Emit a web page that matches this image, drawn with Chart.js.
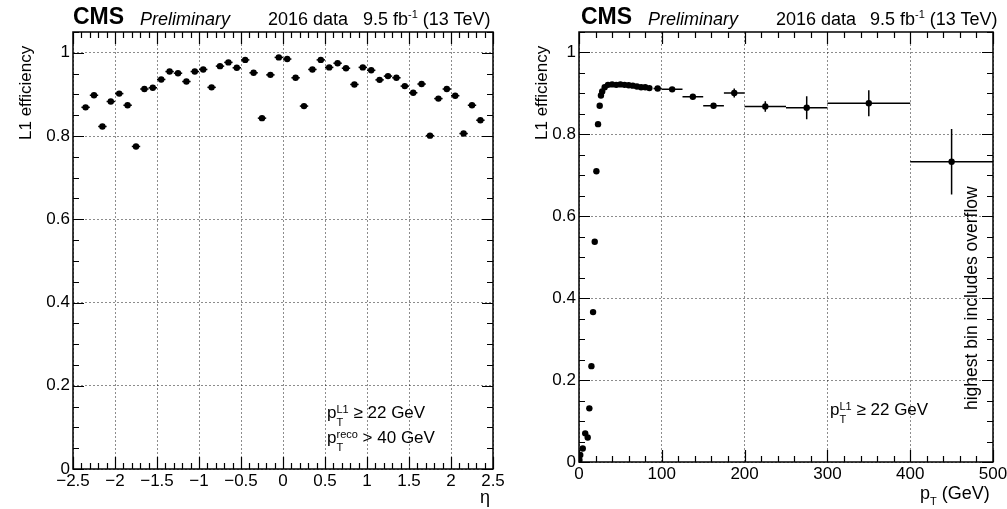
<!DOCTYPE html>
<html>
<head>
<meta charset="utf-8">
<script src="https://cdn.jsdelivr.net/npm/chart.js@4"></script>
<style>
  html, body { margin: 0; padding: 0; background: #fff; }
  body { width: 1007px; height: 509px; position: relative; overflow: hidden;
         font-family: "Liberation Sans", Arial, sans-serif; color: #000; }
  canvas { position: absolute; top: 0; }
  .t { position: absolute; white-space: nowrap; font-size: 18px; line-height: 18px; }
  .cms { font-weight: bold; font-size: 23px; line-height: 23px; }
  .it { font-style: italic; }
  .ytitle { position: absolute; white-space: nowrap; font-size: 17px; line-height: 17px;
            transform-origin: 0 0; transform: rotate(-90deg); }
  .ss { display: inline-block; vertical-align: -8px; font-size: 11px; line-height: 12.5px; }
  .ss span { display: block; }
  sup.e { font-size: 11px; vertical-align: 7px; line-height: 0; }
  .sub { font-size: 11px; vertical-align: -6px; line-height: 0; }
</style>
</head>
<body>
<canvas id="etaChart" width="520" height="509" style="left:0"></canvas>
<canvas id="ptChart" width="530" height="509" style="left:500px"></canvas>

<!-- headers -->
<div class="t cms" style="left:73px;top:5px">CMS</div>
<div class="t it" style="left:140px;top:10px">Preliminary</div>
<div class="t" style="left:268px;top:10px">2016 data</div>
<div class="t" style="left:363px;top:10px">9.5 fb<sup class="e">-1</sup> (13 TeV)</div>

<div class="t cms" style="left:581px;top:5px">CMS</div>
<div class="t it" style="left:648px;top:10px">Preliminary</div>
<div class="t" style="left:776px;top:10px">2016 data</div>
<div class="t" style="left:870px;top:10px">9.5 fb<sup class="e">-1</sup> (13 TeV)</div>

<!-- axis titles -->
<div class="ytitle" style="left:17px;top:140px">L1 efficiency</div>
<div class="ytitle" style="left:533px;top:140px">L1 efficiency</div>
<div class="t" style="left:480px;top:488px;font-size:18px">η</div>
<div class="t" style="left:920px;top:484px;font-size:18px">p<span class="sub">T</span> (GeV)</div>

<!-- annotations -->
<div class="t" style="left:327px;top:403px;font-size:17px">p<span class="ss"><span>L1</span><span>T</span></span> ≥ 22 GeV</div>
<div class="t" style="left:327px;top:428px;font-size:17px">p<span class="ss"><span>reco</span><span>T</span></span> &gt; 40 GeV</div>
<div class="t" style="left:830px;top:400px;font-size:17px">p<span class="ss"><span>L1</span><span>T</span></span> ≥ 22 GeV</div>
<div class="ytitle" style="left:963px;top:410px;font-size:17.5px">highest bin includes overflow</div>

<script>
// ---- data ----
var etaBins = [-2.35, -2.25, -2.15, -2.05, -1.95, -1.85, -1.75, -1.65, -1.55, -1.45, -1.35, -1.25,
               -1.15, -1.05, -0.95, -0.85, -0.75, -0.65, -0.55, -0.45, -0.35, -0.25, -0.15, -0.05,
               0.05, 0.15, 0.25, 0.35, 0.45, 0.55, 0.65, 0.75, 0.85, 0.95, 1.05, 1.15,
               1.25, 1.35, 1.45, 1.55, 1.65, 1.75, 1.85, 1.95, 2.05, 2.15, 2.25, 2.35];
var etaEff = [0.869, 0.898, 0.823, 0.883, 0.902, 0.874, 0.775, 0.913, 0.916, 0.936, 0.955, 0.951,
              0.931, 0.955, 0.960, 0.917, 0.968, 0.977, 0.964, 0.983, 0.952, 0.843, 0.947, 0.989,
              0.985, 0.940, 0.872, 0.960, 0.983, 0.965, 0.975, 0.963, 0.924, 0.965, 0.958, 0.935,
              0.944, 0.940, 0.920, 0.904, 0.925, 0.801, 0.890, 0.913, 0.897, 0.806, 0.874, 0.838];
var etaErrX = [0.05, 0.05, 0.05, 0.05, 0.05, 0.05, 0.05, 0.05, 0.05, 0.05, 0.05, 0.05,
               0.05, 0.05, 0.05, 0.05, 0.05, 0.05, 0.05, 0.05, 0.05, 0.05, 0.05, 0.05,
               0.05, 0.05, 0.05, 0.05, 0.05, 0.05, 0.05, 0.05, 0.05, 0.05, 0.05, 0.05,
               0.05, 0.05, 0.05, 0.05, 0.05, 0.05, 0.05, 0.05, 0.05, 0.05, 0.05, 0.05];

var ptBins = [0.5, 1.5, 4.5, 7.5, 10.5, 12.5, 15, 17, 19, 21, 23, 25, 26.5, 28, 31, 35,
              40, 45, 50, 55, 60, 65, 70, 75, 80, 85, 95, 112.5, 137.5, 162.5, 187.5,
              225, 275, 350, 450];
var ptEff = [0.005, 0.017, 0.033, 0.070, 0.060, 0.131, 0.234, 0.366, 0.538, 0.710, 0.825, 0.870,
             0.895, 0.905, 0.915, 0.921, 0.922, 0.921, 0.922, 0.921, 0.920, 0.919, 0.917, 0.915,
             0.915, 0.913, 0.912, 0.910, 0.892, 0.870, 0.901, 0.868, 0.865, 0.876, 0.733];
var ptErrX = [0, 0, 0, 0, 0, 0, 0, 0, 0, 0, 0, 0, 0, 0, 0, 0, 0, 0, 0, 0, 0, 0, 0, 0, 0, 0,
              5, 12.5, 12.5, 12.5, 12.5, 25, 25, 50, 50];
var ptErrY = [0, 0, 0, 0, 0, 0, 0, 0, 0, 0, 0, 0, 0, 0, 0, 0, 0, 0, 0, 0, 0, 0, 0, 0, 0, 0,
              0.003, 0.004, 0.005, 0.006, 0.011, 0.013, 0.028, 0.032, 0.080];

var etaTicks = [-2.5, -2, -1.5, -1, -0.5, 0, 0.5, 1, 1.5, 2, 2.5];
var ptTicks = [0, 100, 200, 300, 400, 500];
var effTicks = [0, 0.2, 0.4, 0.6, 0.8, 1];

var FONT = '"Liberation Sans", Arial, sans-serif';

// error bars drawn through the chart scales
var errorBars = {
  id: 'errorBars',
  beforeDatasetsDraw: function (chart, args, opts) {
    var ctx = chart.ctx, xs = chart.scales.x, ys = chart.scales.y;
    var pts = chart.data.datasets[0].data;
    ctx.save();
    ctx.strokeStyle = '#000';
    ctx.lineWidth = 1.5;
    pts.forEach(function (p, i) {
      var ex = opts.xErr[i] || 0, ey = opts.yErr[i] || 0;
      ctx.beginPath();
      if (ex > 0) {
        ctx.moveTo(xs.getPixelForValue(p.x - ex), ys.getPixelForValue(p.y));
        ctx.lineTo(xs.getPixelForValue(p.x + ex), ys.getPixelForValue(p.y));
      }
      if (ey > 0) {
        ctx.moveTo(xs.getPixelForValue(p.x), ys.getPixelForValue(p.y - ey));
        ctx.lineTo(xs.getPixelForValue(p.x), ys.getPixelForValue(p.y + ey));
      }
      ctx.stroke();
    });
    ctx.restore();
  }
};

// ROOT-like frame with inward major/minor ticks on all four sides
var rootFrame = {
  id: 'rootFrame',
  afterDraw: function (chart, args, opts) {
    var ctx = chart.ctx, a = chart.chartArea, xs = chart.scales.x, ys = chart.scales.y;
    ctx.save();
    ctx.strokeStyle = '#000';
    ctx.lineWidth = 1.2;
    ctx.beginPath();
    var n = Math.round((xs.max - xs.min) / opts.xMinor);
    for (var i = 0; i <= n; i++) {
      var v = xs.min + i * opts.xMinor;
      var major = Math.abs(v / opts.xMajor - Math.round(v / opts.xMajor)) < 1e-6;
      var len = major ? 12 : 6;
      var px = Math.round(xs.getPixelForValue(v)) + 0.5;
      ctx.moveTo(px, a.bottom); ctx.lineTo(px, a.bottom - len);
      ctx.moveTo(px, a.top); ctx.lineTo(px, a.top + len);
    }
    n = Math.round((ys.max - ys.min) / opts.yMinor);
    for (var j = 0; j <= n; j++) {
      var w = ys.min + j * opts.yMinor;
      var majorY = Math.abs(w / opts.yMajor - Math.round(w / opts.yMajor)) < 1e-6;
      var l = majorY ? 11 : 6;
      var py = Math.round(ys.getPixelForValue(w)) + 0.5;
      ctx.moveTo(a.left, py); ctx.lineTo(a.left + l, py);
      ctx.moveTo(a.right, py); ctx.lineTo(a.right - l, py);
    }
    ctx.stroke();
    ctx.lineWidth = 1.5;
    ctx.strokeRect(a.left, a.top, a.right - a.left, a.bottom - a.top);
    ctx.restore();
  }
};

function fmt(v) {
  return String(+v.toFixed(2)).replace('-', '\u2212');
}

function makeChart(id, xs, ys, xErr, yErr, xr, xTicks, layout) {
  return new Chart(document.getElementById(id), {
    type: 'scatter',
    data: {
      datasets: [{
        data: xs.map(function (x, i) { return { x: x, y: ys[i] }; }),
        backgroundColor: '#000',
        borderColor: '#000',
        pointRadius: 3.2,
        pointHoverRadius: 3.2,
        borderWidth: 0
      }]
    },
    options: {
      responsive: false,
      animation: false,
      events: [],
      layout: { padding: { top: 32, right: layout.padRight, left: 0, bottom: 0 } },
      plugins: {
        legend: { display: false },
        tooltip: { enabled: false },
        errorBars: { xErr: xErr, yErr: yErr },
        rootFrame: { xMinor: xr.minor, xMajor: xr.major, yMinor: 0.05, yMajor: 0.2 }
      },
      scales: {
        x: {
          type: 'linear', min: xr.min, max: xr.max,
          afterBuildTicks: function (s) { s.ticks = xTicks.map(function (v) { return { value: v }; }); },
          afterFit: function (s) { s.height = layout.xHeight; },
          ticks: { font: { family: FONT, size: 17 }, color: '#000', padding: 2,
                   maxRotation: 0, autoSkip: false, callback: fmt },
          grid: { color: 'rgba(0,0,0,0.45)', lineWidth: 1, drawTicks: false },
          border: { display: false, dash: [2, 2] }
        },
        y: {
          type: 'linear', min: 0, max: 1.05,
          afterBuildTicks: function (s) { s.ticks = effTicks.map(function (v) { return { value: v }; }); },
          afterFit: function (s) { s.width = layout.yWidth; },
          ticks: { font: { family: FONT, size: 17 }, color: '#000', padding: 3, callback: fmt },
          grid: { color: 'rgba(0,0,0,0.45)', lineWidth: 1, drawTicks: false },
          border: { display: false, dash: [2, 2] }
        }
      }
    },
    plugins: [errorBars, rootFrame]
  });
}

makeChart('etaChart', etaBins, etaEff, etaErrX, [], { min: -2.5, max: 2.5, major: 0.5, minor: 0.1 },
          etaTicks, { padRight: 27, xHeight: 40, yWidth: 73 });
makeChart('ptChart', ptBins, ptEff, ptErrX, ptErrY, { min: 0, max: 500, major: 100, minor: 20 },
          ptTicks, { padRight: 37, xHeight: 47, yWidth: 79 });
</script>
</body>
</html>
